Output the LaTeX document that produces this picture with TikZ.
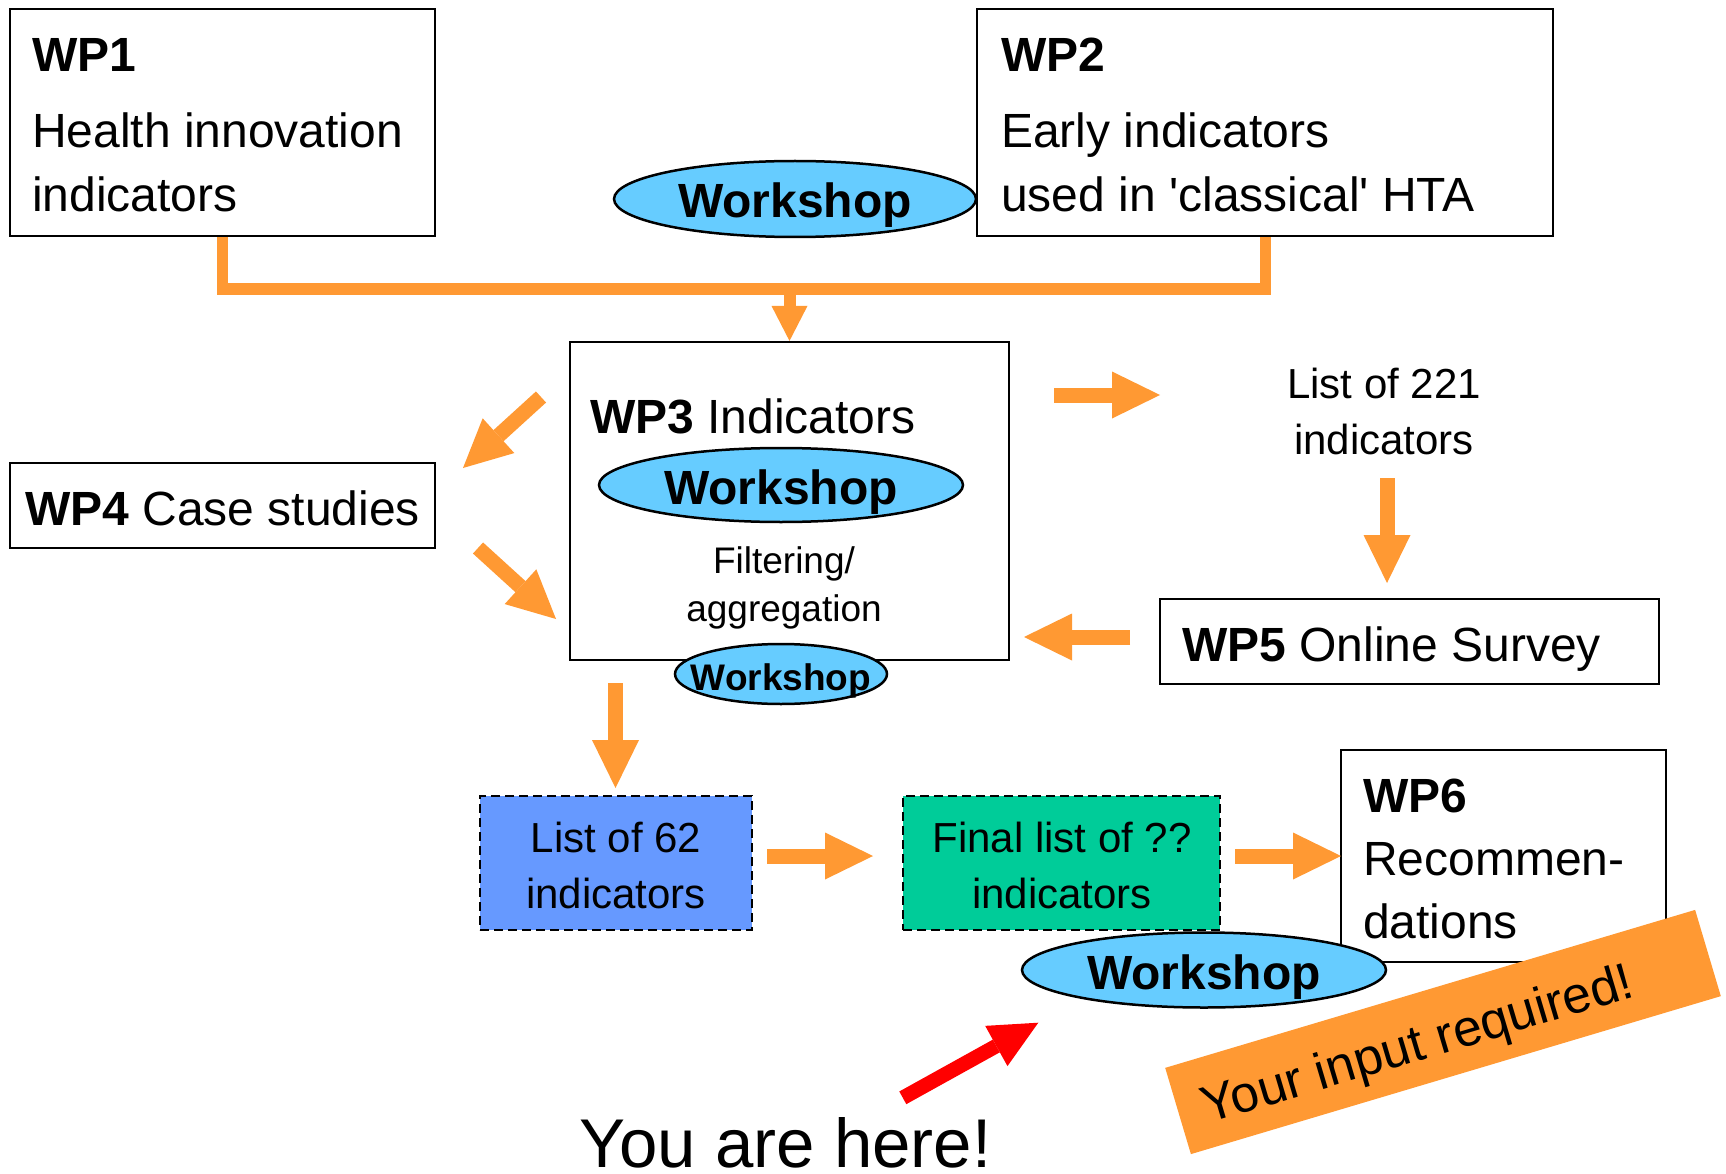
\documentclass[tikz,border=0pt]{standalone}
\usepackage{fontspec}
\setmainfont{Liberation Sans}
\usetikzlibrary{arrows.meta,shapes.geometric}
\definecolor{orng}{HTML}{FF9933}
\definecolor{wsblue}{HTML}{66CCFF}
\definecolor{lblue}{HTML}{6699FF}
\definecolor{lgreen}{HTML}{00CC99}
\newcommand\szL{\fontsize{48}{58}\selectfont}
\newcommand\szM{\fontsize{42}{50}\selectfont}
\newcommand\szS{\fontsize{37}{44}\selectfont}
\begin{document}
\begin{tikzpicture}[x=1pt,y=-1pt,
  box/.style={draw, line width=2.2pt, inner sep=0pt, fill=white},
  dbox/.style={draw, dash pattern=on 9pt off 5pt, line width=2.4pt, inner sep=0pt},
  ws/.style={ellipse, draw, line width=2.5pt, fill=wsblue, inner sep=0pt,
             font=\bfseries\szL, text height=38pt, text depth=0pt},
  txt/.style={inner sep=0pt, anchor=base west, font=\szL},
  ctxt/.style={inner sep=0pt, anchor=base},
  flow/.style={draw=orng, line width=15pt,
               -{Triangle[width=47pt,length=48pt,line width=0pt]}},
  flowsmall/.style={draw=orng, line width=12pt,
               -{Triangle[width=36pt,length=35pt,line width=0pt]}},
  redflow/.style={draw=red, line width=14.5pt,
               -{Triangle[width=46pt,length=48pt,line width=0pt]}}
]
\useasboundingbox (0,0) rectangle (1726,1174);
\fill[white] (0,0) rectangle (1726,1174);

% boxes
\node[box, minimum width=425pt, minimum height=227pt] (wp1) at (222.5,122.5) {};
\node[box, minimum width=576pt, minimum height=227pt] (wp2) at (1265,122.5) {};
\node[box, minimum width=439pt, minimum height=318pt] (wp3) at (789.5,501) {};
\node[box, minimum width=425pt, minimum height=85pt] (wp4) at (222.5,505.5) {};
\node[box, minimum width=499pt, minimum height=85pt] (wp5) at (1409.5,641.5) {};
\node[dbox, fill=lblue, minimum width=272pt, minimum height=134pt] (l62) at (616,863) {};
\node[dbox, fill=lgreen, minimum width=317pt, minimum height=134pt] (final) at (1061.5,863) {};
\node[box, minimum width=325pt, minimum height=212pt] (wp6) at (1503.5,856) {};

% texts
\node[txt] (wp1h) at (32,72) {\bfseries WP1};
\node[txt] (wp1a) at (32,148) {Health innovation};
\node[txt] (wp1b) at (32,212) {indicators};
\node[txt] (wp2h) at (1001,72) {\bfseries WP2};
\node[txt] (wp2a) at (1001,148) {Early indicators};
\node[txt] (wp2b) at (1001,212) {used in \textquotesingle classical\textquotesingle\ HTA};
\node[txt] (wp3h) at (590,433) {\textbf{WP3} Indicators};
\node[ctxt, font=\szS] (filt) at (784,573) {Filtering/};
\node[ctxt, font=\szS] (aggr) at (784,621) {aggregation};
\node[txt] (wp4t) at (25,525) {\textbf{WP4} Case studies};
\node[ctxt, font=\szM] (l221a) at (1384,398) {List of 221};
\node[ctxt, font=\szM] (l221b) at (1384,454) {indicators};
\node[txt] (wp5t) at (1182,661) {\textbf{WP5} Online Survey};
\node[ctxt, font=\szM] (l62a) at (616,852) {List of 62};
\node[ctxt, font=\szM] (l62b) at (616,908) {indicators};
\node[ctxt, font=\szM] (fina) at (1062,852) {Final list of ??};
\node[ctxt, font=\szM] (finb) at (1062,908) {indicators};
\node[txt] (wp6h) at (1363,812) {\bfseries WP6};
\node[txt] (wp6a) at (1363,875) {Recommen-};
\node[txt] (wp6b) at (1363,938) {dations};
\node[ctxt, font=\fontsize{69}{80}\selectfont] (here) at (785.5,1167) {You are here!};

% workshops
\node[ws, minimum width=362pt, minimum height=76pt] (ws1) at (795,199) {Workshop};
\node[ws, minimum width=364pt, minimum height=74pt] (ws2) at (781,485) {Workshop};
\node[ws, font=\bfseries\szS, text height=32pt, inner xsep=-45pt,
      minimum width=212pt, minimum height=60pt] (ws3) at (781,674) {Workshop};
\node[ws, minimum width=364pt, minimum height=75pt] (ws4) at (1204,970) {Workshop};

% merge connector
\coordinate (bar) at (789.5,289);
\draw[orng, line width=11pt] (wp1.south) |- (bar) -| (wp2.south);
\draw[flowsmall] (bar) -- (wp3.north);

% block arrows
\coordinate (a2s) at (541,397); \coordinate (a2e) at (463,468);
\coordinate (a3s) at (478,548); \coordinate (a3e) at (556,619);
\coordinate (a4s) at (1054,395); \coordinate (a4e) at (1160,395);
\coordinate (a5s) at (1387,478); \coordinate (a5e) at (1387,583);
\coordinate (a6s) at (1130,637); \coordinate (a6e) at (1024,637);
\coordinate (a7s) at (615.5,683); \coordinate (a7e) at (615.5,788);
\coordinate (a8s) at (767,856); \coordinate (a8e) at (873,856);
\coordinate (a9s) at (1235,856); \coordinate (a9e) at (1341,856);
\coordinate (rs) at (902.8,1097.8); \coordinate (re) at (1038.3,1022.7);
\draw[flow] (a2s) -- (a2e);
\draw[flow] (a3s) -- (a3e);
\draw[flow] (a4s) -- (a4e);
\draw[flow] (a5s) -- (a5e);
\draw[flow] (a6s) -- (a6e);
\draw[flow] (a7s) -- (a7e);
\draw[flow] (a8s) -- (a8e);
\draw[flow] (a9s) -- (a9e);
\draw[redflow] (rs) -- (re);

% banner
\node[fill=orng, rotate=16.6, minimum width=553pt, minimum height=90pt, inner sep=0pt] (banner) at (1443,1032) {};
\node[rotate=16.6, anchor=base, inner sep=0pt, font=\fontsize{51.5}{60}\selectfont] (bantext) at (1422,1060) {Your input required!};
\end{tikzpicture}
\end{document}
